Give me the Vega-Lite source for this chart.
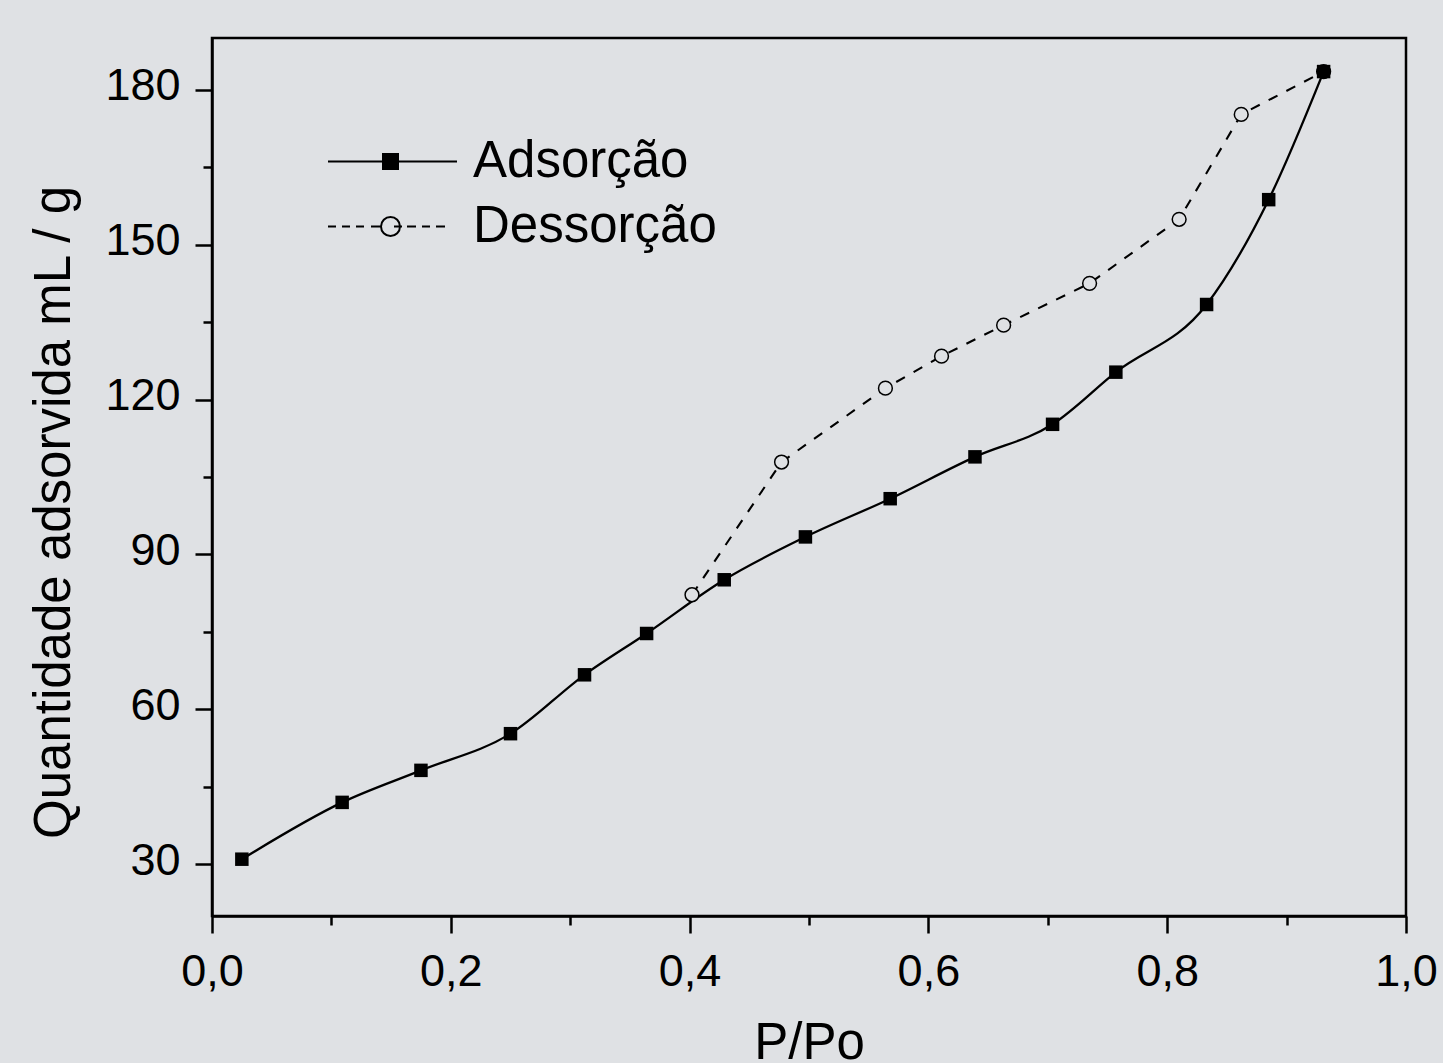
{
  "$schema": "https://vega.github.io/schema/vega-lite/v6.json",
  "width": 1194,
  "height": 878,
  "autosize": "none",
  "padding": {"left": 212, "top": 38, "right": 37, "bottom": 147},
  "background": "#dfe1e4",
  "config": {
    "font": "Liberation Sans",
    "view": {"stroke": "black", "strokeWidth": 2.5, "fill": "#dfe1e4"},
    "axis": {"labelFont": "Liberation Sans", "titleFont": "Liberation Sans", "labelColor": "black", "titleColor": "black", "tickColor": "black", "domainColor": "black"}
  },
  "datasets": {
    "pontos": [
      {"serie": "Adsorção", "pp": 0.025, "q": 31.0},
      {"serie": "Adsorção", "pp": 0.109, "q": 42.0},
      {"serie": "Adsorção", "pp": 0.175, "q": 48.2},
      {"serie": "Adsorção", "pp": 0.250, "q": 55.3},
      {"serie": "Adsorção", "pp": 0.312, "q": 66.7},
      {"serie": "Adsorção", "pp": 0.364, "q": 74.7},
      {"serie": "Adsorção", "pp": 0.429, "q": 85.1},
      {"serie": "Adsorção", "pp": 0.497, "q": 93.4},
      {"serie": "Adsorção", "pp": 0.568, "q": 100.8},
      {"serie": "Adsorção", "pp": 0.639, "q": 108.9},
      {"serie": "Adsorção", "pp": 0.704, "q": 115.2},
      {"serie": "Adsorção", "pp": 0.757, "q": 125.3},
      {"serie": "Adsorção", "pp": 0.833, "q": 138.4},
      {"serie": "Adsorção", "pp": 0.885, "q": 158.7},
      {"serie": "Adsorção", "pp": 0.931, "q": 183.5},
      {"serie": "Dessorção", "pp": 0.402, "q": 82.2},
      {"serie": "Dessorção", "pp": 0.477, "q": 107.9},
      {"serie": "Dessorção", "pp": 0.564, "q": 122.2},
      {"serie": "Dessorção", "pp": 0.611, "q": 128.4},
      {"serie": "Dessorção", "pp": 0.663, "q": 134.4},
      {"serie": "Dessorção", "pp": 0.735, "q": 142.5},
      {"serie": "Dessorção", "pp": 0.810, "q": 154.9},
      {"serie": "Dessorção", "pp": 0.862, "q": 175.2},
      {"serie": "Dessorção", "pp": 0.931, "q": 183.5}
    ]
  },
  "data": {"name": "pontos"},
  "resolve": {"axis": {"x": "independent", "y": "independent"}},
  "layer": [
    {
      "transform": [{"filter": "datum.serie === 'Adsorção'"}],
      "mark": {"type": "line", "interpolate": "monotone", "color": "black", "strokeWidth": 2.3},
      "encoding": {
        "x": {
          "field": "pp", "type": "quantitative",
          "scale": {"domain": [0, 1], "nice": false, "zero": false},
          "axis": {
            "orient": "bottom",
            "values": [0, 0.2, 0.4, 0.6, 0.8, 1.0],
            "labelExpr": "replace(format(datum.value, '.1f'), '.', ',')",
            "labelFontSize": 45, "labelPadding": 16, "labelFlush": false, "labelOverlap": false, "labelBound": false,
            "tickSize": 17, "tickWidth": 2.5, "domainWidth": 2.5, "grid": false,
            "title": "P/Po", "titleFontSize": 51, "titleFontWeight": "normal",
            "titleBaseline": "alphabetic", "titleX": 597, "titleY": 142, "titleAlign": "center"
          }
        },
        "y": {
          "field": "q", "type": "quantitative",
          "scale": {"domain": [20, 190], "nice": false, "zero": false},
          "axis": {
            "orient": "left",
            "values": [30, 60, 90, 120, 150, 180],
            "labelFontSize": 45, "labelPadding": 15, "labelOffset": -4, "labelFlush": false, "labelOverlap": false, "labelBound": false,
            "tickSize": 17, "tickWidth": 2.5, "domainWidth": 2.5, "grid": false,
            "title": "Quantidade adsorvida mL / g", "titleFontSize": 51, "titleFontWeight": "normal",
            "titleAngle": -90, "titleBaseline": "alphabetic", "titleAlign": "center", "titleX": -143, "titleY": 474
          }
        }
      }
    },
    {
      "transform": [{"filter": "datum.serie === 'Dessorção'"}],
      "mark": {"type": "line", "interpolate": "linear", "color": "black", "strokeWidth": 2.1, "strokeDash": [10, 10]},
      "encoding": {
        "x": {
          "field": "pp", "type": "quantitative",
          "axis": {"orient": "bottom", "values": [0.1, 0.3, 0.5, 0.7, 0.9], "labels": false, "domain": false, "grid": false, "tickSize": 9, "tickWidth": 2.5, "title": null}
        },
        "y": {
          "field": "q", "type": "quantitative",
          "axis": {"orient": "left", "values": [45, 75, 105, 135, 165], "labels": false, "domain": false, "grid": false, "tickSize": 9, "tickWidth": 2.5, "title": null}
        }
      }
    },
    {
      "transform": [{"filter": "datum.serie === 'Dessorção'"}],
      "mark": {"type": "point", "shape": "circle", "filled": true, "fill": "#dfe1e4", "stroke": "black", "strokeWidth": 1.5, "size": 190, "opacity": 1},
      "encoding": {
        "x": {"field": "pp", "type": "quantitative", "axis": null},
        "y": {"field": "q", "type": "quantitative", "axis": null}
      }
    },
    {
      "transform": [{"filter": "datum.serie === 'Adsorção'"}],
      "mark": {"type": "point", "shape": "square", "filled": true, "color": "black", "size": 182, "opacity": 1},
      "encoding": {
        "x": {"field": "pp", "type": "quantitative", "axis": null},
        "y": {"field": "q", "type": "quantitative", "axis": null}
      }
    },
    {
      "transform": [{"filter": "false"}],
      "mark": {"type": "point", "filled": true, "strokeWidth": 2, "size": 400, "opacity": 1},
      "encoding": {
        "x": {"field": "pp", "type": "quantitative", "axis": null},
        "y": {"field": "q", "type": "quantitative", "axis": null},
        "shape": {
          "field": "serie", "type": "nominal",
          "scale": {
            "domain": ["Adsorção", "Dessorção"],
            "range": [
              "M-6.25,0L-0.75,0M-0.75,-0.75L0.75,-0.75L0.75,0.75L-0.75,0.75ZM0.75,0L6.65,0",
              "M-6.25,0L-5.45,0M-4.85,0L-4.05,0M-3.45,0L-2.65,0M-1.95,0L-0.95,0M0.35,0L1.15,0M1.65,0L2.55,0M3.15,0L3.95,0M4.55,0L5.45,0M0.95,0A0.95,0.95 0 1,1 -0.95,0A0.95,0.95 0 1,1 0.95,0Z"
            ]
          },
          "legend": {
            "title": null, "orient": "none", "legendX": 153, "legendY": 98, "padding": 0,
            "symbolSize": 400, "symbolStrokeWidth": 2,
            "labelFont": "Liberation Sans", "labelFontSize": 51, "labelColor": "black", "labelOffset": 57, "rowPadding": 13, "labelLimit": 0
          }
        },
        "fill": {
          "field": "serie", "type": "nominal",
          "scale": {"domain": ["Adsorção", "Dessorção"], "range": ["black", "transparent"]},
          "legend": {
            "title": null, "orient": "none", "legendX": 153, "legendY": 98, "padding": 0,
            "symbolSize": 400, "symbolStrokeWidth": 2,
            "labelFont": "Liberation Sans", "labelFontSize": 51, "labelColor": "black", "labelOffset": 57, "rowPadding": 13, "labelLimit": 0
          }
        },
        "stroke": {
          "field": "serie", "type": "nominal",
          "scale": {"domain": ["Adsorção", "Dessorção"], "range": ["black", "black"]},
          "legend": {
            "title": null, "orient": "none", "legendX": 153, "legendY": 98, "padding": 0,
            "symbolSize": 400, "symbolStrokeWidth": 2,
            "labelFont": "Liberation Sans", "labelFontSize": 51, "labelColor": "black", "labelOffset": 57, "rowPadding": 13, "labelLimit": 0
          }
        }
      }
    }
  ]
}
